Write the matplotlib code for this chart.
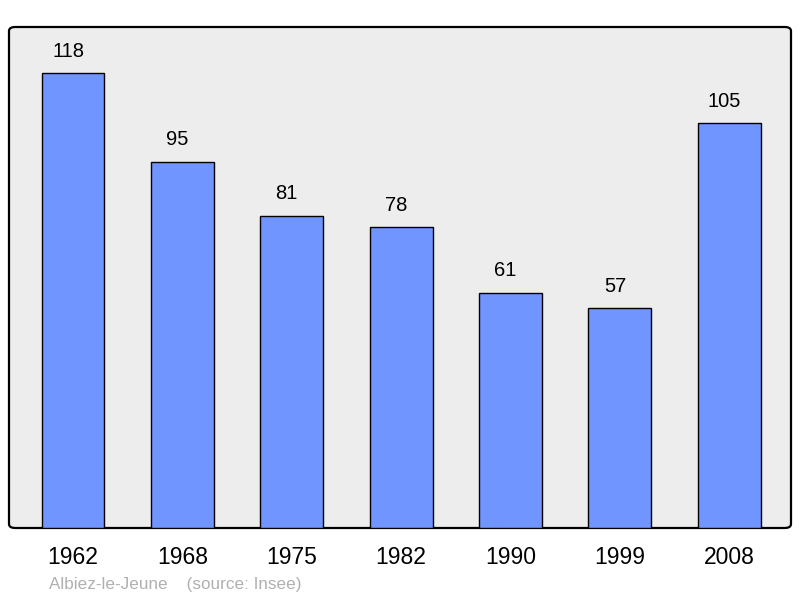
import matplotlib.pyplot as plt
from matplotlib.patches import FancyBboxPatch

plt.rcParams['font.family'] = ['Liberation Sans', 'DejaVu Sans']

years = ['1962', '1968', '1975', '1982', '1990', '1999', '2008']
population = [118, 95, 81, 78, 61, 57, 105]

fig = plt.figure(figsize=(8, 5.98), dpi=100)
ax = fig.add_axes([9/800, 1-528/598, 782/800, 501/598])
ax.set_facecolor('none')
for s in ax.spines.values():
    s.set_visible(False)

# frame with rounded corners
frame = FancyBboxPatch((0, 0), 1, 1,
                       boxstyle='round,pad=0,rounding_size=0.008',
                       transform=ax.transAxes, facecolor='#ededed',
                       edgecolor='black', linewidth=1.6, zorder=0, clip_on=False)
ax.add_patch(frame)

x = range(len(years))
ax.bar(x, population, width=0.575, color='#7095ff', edgecolor='black', linewidth=1.0, zorder=2)
for i, v in zip(x, population):
    ax.text(i - 0.045, v + 3.3, str(v), ha='center', va='bottom', fontsize=14.5)

ax.set_xlim(-0.585, 6.565)
ax.set_ylim(0, 130)
ax.set_yticks([])
ax.set_xticks(list(x))
ax.set_xticklabels(years, fontsize=16.5)
ax.tick_params(axis='x', length=0, pad=13)

fig.text(49/800, 1-584/598, 'Albiez-le-Jeune    (source: Insee)', fontsize=12.3,
         color='#b0b0b0', va='center', ha='left')

fig.savefig('out.png', dpi=100)
